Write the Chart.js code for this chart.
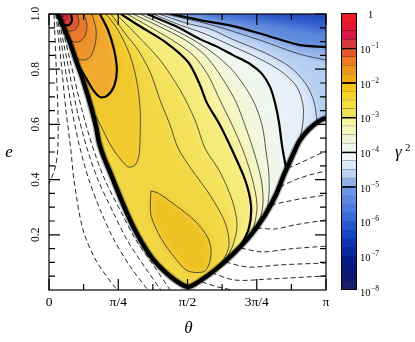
<!DOCTYPE html>
<html>
<head>
<meta charset="utf-8">
<title>gamma squared map</title>
<script src="https://cdn.jsdelivr.net/npm/chart.js@4.4.1/dist/chart.umd.min.js"></script>
<style>
  html, body { margin: 0; padding: 0; background: #fff; }
  #wrap { position: relative; width: 415px; height: 342px; overflow: hidden; }
  canvas { position: absolute; top: 0; }
  #map { left: 0; }
  #scale { left: 330px; }
</style>
</head>
<body>
<div id="wrap">
  <canvas id="map" width="335" height="342"></canvas>
  <canvas id="scale" width="85" height="342"></canvas>
</div>
<script>
// x is theta / pi, y is e. Every point is [theta/pi, e].

// axis ticks
const thetaTicks = [0, 0.25, 0.5, 0.75, 1];
const thetaLabels = ['0', 'π/4', 'π/2', '3π/4', 'π'];
const thetaMinor = [0.125, 0.375, 0.625, 0.875];
const eTicks = [0.2, 0.4, 0.6, 0.8, 1.0];
const eLabels = ['0.2', '0.4', '0.6', '0.8', '1.0'];
const eMinor = [0.05, 0.1, 0.15, 0.25, 0.3, 0.35, 0.45, 0.5, 0.55, 0.65, 0.7, 0.75, 0.85, 0.9, 0.95];

// edge of the allowed region (gamma^2 -> 0): top left, down to the dip, up to the right side
const edge = [
  [0.032, 1.000], [0.054, 0.949], [0.076, 0.895], [0.097, 0.833], [0.119, 0.772], [0.137, 0.714],
  [0.155, 0.652], [0.170, 0.591], [0.181, 0.533], [0.199, 0.478], [0.220, 0.428], [0.242, 0.373],
  [0.264, 0.319], [0.289, 0.261], [0.314, 0.210], [0.343, 0.159], [0.375, 0.112], [0.412, 0.072],
  [0.455, 0.036], [0.502, 0.011], [0.545, 0.033], [0.599, 0.072], [0.664, 0.130], [0.726, 0.196],
  [0.780, 0.272], [0.819, 0.344], [0.848, 0.417], [0.877, 0.482], [0.906, 0.543], [0.939, 0.583],
  [0.975, 0.612], [1.000, 0.623]
];

// solid contours of log10(gamma^2); name = level * -100
const c050 = [[0.054, 1.0], [0.051, 0.989], [0.040, 0.989]];
const c075 = [[0.065, 1.0], [0.065, 0.982], [0.051, 0.975], [0.042, 0.978]];
const c100 = [[0.079, 1.0], [0.083, 0.978], [0.072, 0.960], [0.049, 0.960]];
const c125 = [[0.101, 1.0], [0.108, 0.971], [0.097, 0.946], [0.076, 0.938], [0.058, 0.942]];
const c150 = [[0.126, 1.0], [0.137, 0.960], [0.130, 0.920], [0.108, 0.899], [0.087, 0.899], [0.072, 0.909]];
const c175 = [[0.155, 1.0], [0.170, 0.942], [0.166, 0.888], [0.148, 0.844], [0.123, 0.833], [0.101, 0.841], [0.090, 0.862]];
const c200 = [[0.184, 1.0], [0.213, 0.942], [0.235, 0.870], [0.245, 0.797], [0.235, 0.739], [0.209, 0.703],
  [0.184, 0.699], [0.159, 0.725], [0.134, 0.768], [0.112, 0.804]];
const c225 = [[0.206, 1.0], [0.249, 0.942], [0.292, 0.851], [0.318, 0.750], [0.329, 0.652], [0.329, 0.562],
  [0.325, 0.489], [0.311, 0.453], [0.285, 0.446], [0.249, 0.486], [0.220, 0.529], [0.191, 0.587], [0.170, 0.630]];
const tear225 = [[0.368, 0.359], [0.368, 0.272], [0.404, 0.188], [0.455, 0.116], [0.502, 0.069], [0.563, 0.069],
  [0.585, 0.127], [0.574, 0.188], [0.527, 0.250], [0.455, 0.308], [0.394, 0.351], [0.368, 0.359]];
const c250 = [[0.224, 1.0], [0.274, 0.931], [0.321, 0.870], [0.365, 0.790], [0.401, 0.688], [0.437, 0.598],
  [0.466, 0.514], [0.516, 0.435], [0.581, 0.344], [0.635, 0.246], [0.650, 0.163], [0.625, 0.101], [0.596, 0.072]];
const c275 = [[0.242, 1.0], [0.310, 0.931], [0.401, 0.833], [0.473, 0.725], [0.527, 0.616], [0.563, 0.514],
  [0.617, 0.428], [0.661, 0.326], [0.679, 0.236], [0.664, 0.163], [0.639, 0.112]];
const c300 = [[0.260, 1.0], [0.321, 0.960], [0.419, 0.899], [0.502, 0.826], [0.545, 0.743], [0.570, 0.678],
  [0.617, 0.598], [0.661, 0.507], [0.708, 0.399], [0.729, 0.308], [0.722, 0.225], [0.690, 0.159], [0.657, 0.123]];
const c325 = [[0.282, 1.0], [0.357, 0.957], [0.444, 0.906], [0.520, 0.851], [0.574, 0.779], [0.617, 0.688],
  [0.661, 0.598], [0.700, 0.507], [0.733, 0.406], [0.751, 0.308], [0.740, 0.232], [0.715, 0.181]];
const c350 = [[0.303, 1.0], [0.394, 0.957], [0.491, 0.906], [0.563, 0.851], [0.625, 0.768], [0.675, 0.681],
  [0.711, 0.587], [0.740, 0.500], [0.765, 0.406], [0.773, 0.326], [0.765, 0.268], [0.745, 0.222]];
const c375 = [[0.329, 1.0], [0.430, 0.953], [0.509, 0.913], [0.588, 0.862], [0.668, 0.790], [0.736, 0.688],
  [0.769, 0.598], [0.783, 0.507], [0.794, 0.417], [0.794, 0.344], [0.787, 0.290]];
const c400 = [[0.354, 1.0], [0.455, 0.957], [0.545, 0.909], [0.610, 0.880], [0.664, 0.851], [0.726, 0.819],
  [0.769, 0.783], [0.798, 0.736], [0.816, 0.678], [0.830, 0.609], [0.841, 0.525], [0.856, 0.440]];
const c425 = [[0.375, 1.0], [0.473, 0.960], [0.563, 0.928], [0.661, 0.884], [0.762, 0.837], [0.841, 0.790],
  [0.895, 0.736], [0.917, 0.670], [0.917, 0.609], [0.906, 0.547]];
const c450 = [[0.397, 1.0], [0.495, 0.967], [0.581, 0.946], [0.661, 0.909], [0.780, 0.859], [0.870, 0.808],
  [0.928, 0.746], [0.957, 0.681], [0.968, 0.608]];
const c475 = [[0.419, 1.0], [0.516, 0.978], [0.599, 0.957], [0.661, 0.938], [0.780, 0.899], [0.903, 0.855], [1.0, 0.833]];
const c500 = [[0.440, 1.0], [0.545, 0.978], [0.661, 0.957], [0.780, 0.924], [0.903, 0.888], [1.0, 0.880]];
// unlined levels inside the blue corner (shading only)
const c550 = [[0.563, 1.0], [0.726, 0.978], [0.906, 0.949], [1.0, 0.935]];
const c600 = [[0.744, 1.0], [0.870, 0.986], [1.0, 0.971]];

// dashed contours outside the region
const dashLeft1 = [[0.018, 1.0], [0.025, 0.833], [0.032, 0.652], [0.032, 0.514], [0.022, 0.442], [0.0, 0.384]];
const dashLeft2 = [[0.025, 1.0], [0.043, 0.833], [0.061, 0.652], [0.079, 0.507], [0.090, 0.399], [0.123, 0.217], [0.173, 0.101], [0.245, 0.0]];
const dashLeft3 = [[0.029, 1.0], [0.054, 0.833], [0.083, 0.652], [0.112, 0.514], [0.144, 0.399], [0.188, 0.283], [0.235, 0.181], [0.292, 0.087], [0.357, 0.0]];
const dashLeft4 = [[0.032, 1.0], [0.065, 0.833], [0.101, 0.652], [0.137, 0.514], [0.177, 0.399], [0.231, 0.283], [0.282, 0.181], [0.343, 0.087], [0.404, 0.0]];
const dashLeft5 = [[0.036, 1.0], [0.076, 0.833], [0.119, 0.652], [0.159, 0.514], [0.202, 0.399], [0.260, 0.283], [0.314, 0.181], [0.379, 0.087], [0.437, 0.0]];
const dashRight1 = [[0.863, 0.442], [0.906, 0.460], [0.953, 0.482], [1.0, 0.504]];
const dashRight2 = [[0.834, 0.373], [0.888, 0.399], [0.942, 0.417], [1.0, 0.431]];
const dashRight3 = [[0.801, 0.308], [0.852, 0.319], [0.906, 0.330], [1.0, 0.344]];
const dashRight4 = [[0.751, 0.225], [0.816, 0.221], [0.888, 0.236], [1.0, 0.254]];
const dashRight5 = [[0.693, 0.152], [0.769, 0.138], [0.870, 0.149], [1.0, 0.159]];
const dashRight6 = [[0.639, 0.101], [0.718, 0.083], [0.834, 0.091], [1.0, 0.098]];
const dashRight7 = [[0.588, 0.062], [0.671, 0.036], [0.798, 0.040], [1.0, 0.051]];
const dashRight8 = [[0.552, 0.029], [0.610, 0.011], [0.661, 0.0]];

// colour bar: top of each quarter-decade band (log10) and its colour
const cbarExp = [0, -1, -2, -3, -4, -5, -6, -7, -8];
const bandTop = [0, -0.25, -0.5, -0.75, -1, -1.25, -1.5, -1.75, -2, -2.25, -2.5, -2.75, -3, -3.25, -3.5, -3.75,
  -4, -4.25, -4.5, -4.75, -5, -5.25, -5.5, -5.75, -6, -6.25, -6.5, -6.75, -7, -7.25, -7.5, -7.75];
const bandColors = [
  '#ee1c24', '#e31a35', '#d91a48', '#d6373c', '#e45a2c', '#ec7a22', '#f0921a', '#f3aa12',
  '#f2c612', '#f3d424', '#f4e040', '#ece258', '#f4f49c', '#f2f6b8', '#ecf4d4', '#edf7ec',
  '#eef5fa', '#dde9f8', '#bcd2f2', '#8fb1ea', '#6a94e4', '#5c88e0', '#4c7adc', '#3a6ad6',
  '#2658cc', '#1646c2', '#0c36b0', '#08289c', '#061d88', '#08187a', '#0e1a70', '#181e68'
];

// ---------- building the datasets ----------
const vertex = edge.reduce((best, p, i) => (p[1] < edge[best][1] ? i : best), 0);

// region above a level: the contour, then round the outside of the region back to the top
function closeRegion(line) {
  const first = line[0];
  const end = line[line.length - 1];
  let tail;
  if (end[0] >= 0.999) tail = [[1.1, end[1]], [1.1, -0.1], [-0.1, -0.1]];
  else if (end[0] < edge[vertex][0]) tail = [[-0.1, end[1]]];
  else tail = [[end[0], -0.1], [-0.1, -0.1]];
  return line.concat(tail, [[-0.1, 1.1], [first[0], 1.1]]);
}

const toXY = pts => pts.map(p => ({ x: p[0], y: p[1] }));

const layers = [
  [[[-0.1, -0.1], [1.1, -0.1], [1.1, 1.1], [-0.1, 1.1]], '#234cc0'],
  [closeRegion(c600), '#3a66d0'],
  [closeRegion(c550), '#5f8adc'],
  [closeRegion(c500), '#93b3ea'],
  [closeRegion(c475), '#b8cff2'],
  [closeRegion(c450), '#d7e5f7'],
  [closeRegion(c425), '#e9f1f8'],
  [closeRegion(c400), '#f1f7ef'],
  [closeRegion(c375), '#f3f7dc'],
  [closeRegion(c350), '#f5f6c2'],
  [closeRegion(c325), '#f6f2a2'],
  [closeRegion(c300), '#f5ec7c'],
  [closeRegion(c275), '#f4e25c'],
  [closeRegion(c250), '#f2d744'],
  [closeRegion(c225), '#f0c92e'],
  [tear225, '#eec124'],
  [closeRegion(c200), '#f0a92e'],
  [closeRegion(c175), '#ec902a'],
  [closeRegion(c150), '#e8782a'],
  [closeRegion(c125), '#e15a2e'],
  [closeRegion(c100), '#d93a38'],
  [closeRegion(c075), '#dc2339'],
  [closeRegion(c050), '#e4172c']
];
const sharpFrom = 18; // the small peak loops are painted without softening

const thinLines = [c050, c075, c125, c150, c175, c225, tear225, c250, c275, c325, c350, c375, c425, c450, c475];
const thickLines = [c100, c200, c300, c400, c500];
const dashLines = [dashLeft1, dashLeft2, dashLeft3, dashLeft4, dashLeft5,
  dashRight1, dashRight2, dashRight3, dashRight4, dashRight5, dashRight6, dashRight7, dashRight8];

const base = { pointRadius: 0, tension: 0.3, clip: 0 };
const datasets = [];
layers.forEach(([pts, color]) => {
  datasets.push({ ...base, tension: 0.25, data: toXY(pts), fill: 'shape', backgroundColor: color,
    borderColor: 'rgba(0,0,0,0)', borderWidth: 0 });
});
thinLines.forEach(pts => {
  datasets.push({ ...base, data: toXY(pts), fill: false, borderColor: '#2e2e2e', borderWidth: 0.8 });
});
thickLines.forEach(pts => {
  datasets.push({ ...base, data: toXY(pts), fill: false, borderColor: '#000', borderWidth: 2.2 });
});
dashLines.forEach(pts => {
  datasets.push({ ...base, data: toXY(pts), fill: false, borderColor: '#111', borderWidth: 0.9, borderDash: [5, 3] });
});
datasets.push({ ...base, data: toXY(edge), fill: false, borderColor: 'rgba(0,0,0,0.3)', borderWidth: 7 });
datasets.push({ ...base, data: toXY(edge), fill: false, borderColor: '#000', borderWidth: 4.5 });
// first pushed is painted first
datasets.forEach((d, i) => { d.order = datasets.length - i; });

// keep the colour inside the region and let neighbouring bands blend
const regionOutline = edge.concat([[1.05, 0.623], [1.05, 1.05], [0.032, 1.05]]);
const soften = {
  id: 'soften',
  beforeDatasetsDraw(chart) {
    const { ctx, scales: { x, y } } = chart;
    ctx.save();
    ctx.beginPath();
    regionOutline.forEach((p, i) => {
      const px = x.getPixelForValue(p[0]);
      const py = y.getPixelForValue(p[1]);
      if (i) ctx.lineTo(px, py); else ctx.moveTo(px, py);
    });
    ctx.closePath();
    ctx.clip();
    ctx.filter = 'blur(3px)';
  },
  afterDatasetDraw(chart, args) {
    if (args.index === sharpFrom - 1) chart.ctx.filter = 'none';
    if (args.index === layers.length - 1) chart.ctx.restore();
  }
};

const frame = {
  id: 'frame',
  afterDraw(chart) {
    const { ctx, chartArea: a, scales: { x, y } } = chart;
    ctx.save();
    ctx.strokeStyle = '#000';
    ctx.lineWidth = 1.2;
    ctx.beginPath();
    const tickX = (v, len) => {
      const px = x.getPixelForValue(v);
      ctx.moveTo(px, a.bottom); ctx.lineTo(px, a.bottom - len);
      ctx.moveTo(px, a.top); ctx.lineTo(px, a.top + len);
    };
    const tickY = (v, len) => {
      const py = y.getPixelForValue(v);
      ctx.moveTo(a.left, py); ctx.lineTo(a.left + len, py);
      ctx.moveTo(a.right, py); ctx.lineTo(a.right - len, py);
    };
    thetaTicks.forEach(v => tickX(v, 11));
    thetaMinor.forEach(v => tickX(v, 6));
    eTicks.forEach(v => tickY(v, 11));
    eMinor.forEach(v => tickY(v, 6));
    ctx.stroke();
    ctx.strokeRect(a.left, a.top, a.right - a.left, a.bottom - a.top);

    // e tick labels are turned on their side
    ctx.fillStyle = '#000';
    ctx.font = '11.5px "Liberation Serif"';
    ctx.textAlign = 'center';
    ctx.textBaseline = 'middle';
    eTicks.forEach((v, i) => {
      ctx.save();
      ctx.translate(36, y.getPixelForValue(v));
      ctx.rotate(-Math.PI / 2);
      ctx.fillText(eLabels[i], 0, 0);
      ctx.restore();
    });
    ctx.textBaseline = 'alphabetic';
    ctx.font = 'italic 17px "Liberation Serif"';
    ctx.fillText('e', 9, 157);
    ctx.fillText('θ', (a.left + a.right) / 2 + 1, 333);
    ctx.restore();
  }
};

new Chart(document.getElementById('map'), {
  type: 'line',
  data: { datasets },
  options: {
    responsive: false,
    animation: false,
    devicePixelRatio: 1,
    events: [],
    layout: { padding: { left: 0, right: 9, top: 14, bottom: 0 } },
    scales: {
      x: {
        type: 'linear', min: 0, max: 1,
        grid: { display: false, drawTicks: false },
        border: { display: false },
        afterBuildTicks: s => { s.ticks = thetaTicks.map(v => ({ value: v })); },
        afterFit: s => { s.height = 52; },
        ticks: {
          autoSkip: false, maxRotation: 0, padding: 4, color: '#000',
          font: { family: '"Liberation Serif"', size: 13.5 },
          callback: (v, i) => thetaLabels[i]
        }
      },
      y: {
        type: 'linear', min: 0, max: 1,
        grid: { display: false, drawTicks: false },
        border: { display: false },
        ticks: { display: false },
        afterFit: s => { s.width = 49; }
      }
    },
    plugins: { legend: { display: false }, tooltip: { enabled: false } }
  },
  plugins: [soften, frame]
});

// ---------- colour bar ----------
function darker(hex, f) {
  const n = parseInt(hex.slice(1), 16);
  return `rgb(${Math.round(((n >> 16) & 255) * f)},${Math.round(((n >> 8) & 255) * f)},${Math.round((n & 255) * f)})`;
}

const bandSets = bandTop.map((top, i) => {
  const bottom = i + 1 < bandTop.length ? bandTop[i + 1] : -8;
  const thick = Number.isInteger(top) && top <= -1 && top >= -5;
  const thin = !thick && top < 0 && top > -5;
  return {
    data: [[Math.pow(10, bottom), Math.pow(10, top)]],
    backgroundColor: bandColors[i],
    borderColor: thick ? '#000' : darker(bandColors[i], 0.6),
    borderWidth: { top: thick ? 2 : (thin ? 1 : 0), right: 0, bottom: 0, left: 0 },
    borderSkipped: false,
    barPercentage: 1,
    categoryPercentage: 1
  };
});

const scaleText = {
  id: 'scaleText',
  afterDraw(chart) {
    const { ctx, chartArea: a, scales: { y } } = chart;
    ctx.save();
    ctx.strokeStyle = '#000';
    ctx.lineWidth = 1;
    ctx.strokeRect(a.left + 0.5, a.top + 0.5, a.right - a.left - 1, a.bottom - a.top - 1);
    ctx.fillStyle = '#000';
    ctx.textAlign = 'left';
    ctx.textBaseline = 'alphabetic';
    cbarExp.forEach(p => {
      const py = y.getPixelForValue(Math.pow(10, p));
      ctx.font = '10.5px "Liberation Serif"';
      if (p === 0) {
        ctx.fillText('1', a.right + 11, py + 5);
        return;
      }
      ctx.fillText('10', a.right + 3, py + 5.5);
      const w = ctx.measureText('10').width;
      ctx.font = '7.5px "Liberation Serif"';
      ctx.fillText('\u2212' + (-p), a.right + 3 + w + 0.5, py + 0.5);
    });
    ctx.font = 'italic 17px "Liberation Serif"';
    ctx.fillText('γ', a.right + 38, 157);
    ctx.font = '11px "Liberation Serif"';
    ctx.fillText('2', a.right + 48, 151);
    ctx.restore();
  }
};

new Chart(document.getElementById('scale'), {
  type: 'bar',
  data: { labels: [''], datasets: bandSets },
  options: {
    responsive: false,
    animation: false,
    devicePixelRatio: 1,
    events: [],
    layout: { padding: { left: 11, right: 0, top: 13, bottom: 52 } },
    scales: {
      x: { display: false, stacked: true },
      y: {
        type: 'logarithmic', position: 'right', min: 1e-8, max: 1,
        grid: { display: false, drawTicks: false },
        border: { display: false },
        ticks: { display: false },
        afterFit: s => { s.width = 58; }
      }
    },
    plugins: { legend: { display: false }, tooltip: { enabled: false } }
  },
  plugins: [scaleText]
});
</script>
</body>
</html>
